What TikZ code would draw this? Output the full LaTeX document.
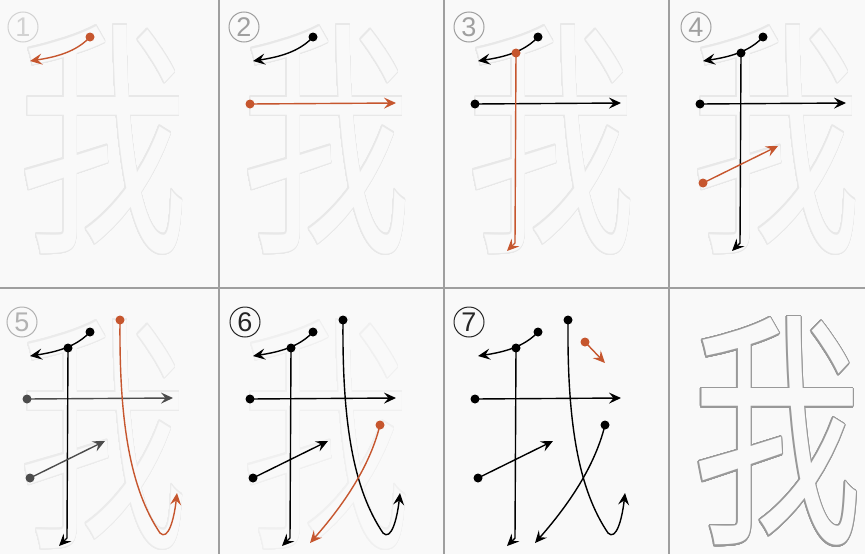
\documentclass[tikz,border=0pt]{standalone}
\usepackage{fontspec}
\usepackage{graphicx}
\usepackage[copies]{contour}
\usetikzlibrary{arrows.meta}
\newfontfamily\cjk{Noto Sans CJK SC}
\newfontfamily\numfont{Liberation Sans}
\definecolor{inkred}{RGB}{198,86,46}
\definecolor{panelbg}{RGB}{249,249,249}
\contourlength{1.1pt}
\contournumber{40}

% one stroke of the character, drawn in panel coordinates
\newcommand{\wochar}[1]{\scalebox{0.68}[1]{\fontsize{250}{250}\cjk\contour{#1}{\textcolor{panelbg}{我}}}}
\newcommand{\strokeone}[1]{%
  \fill[#1] (94,37) circle (4.5pt);
  \draw[penline,#1] (94,37) .. controls (80,52) and (60,57) .. (34,61);}
\newcommand{\stroketwo}[1]{%
  \fill[#1] (31,104) circle (4.5pt);
  \draw[penline,#1] (31,104) -- (177,103);}
\newcommand{\strokethree}[1]{%
  \fill[#1] (72,53) circle (4.5pt);
  \draw[penline,#1] (72,53) -- (71,243) -- (63,251);}
\newcommand{\strokefour}[1]{%
  \fill[#1] (34,183) circle (4.5pt);
  \draw[penline,#1] (34,183) -- (109,146);}
\newcommand{\strokefive}[1]{%
  \fill[#1] (124,25) circle (4.5pt);
  \draw[penline,#1] (124,25) .. controls (123,130) and (135,195) .. (164,238)
    .. controls (172,246) and (178,225) .. (181,198);}
\newcommand{\strokesix}[1]{%
  \fill[#1] (161,130) circle (4.5pt);
  \draw[penline,#1] (161,130) .. controls (150,175) and (120,215) .. (91,248);}
\newcommand{\strokeseven}[1]{%
  \fill[#1] (141,47) circle (4.5pt);
  \draw[penline,#1] (141,47) -- (161,68);}

\begin{document}
\begin{tikzpicture}[x=1pt, y=-1pt]
        \tikzset{
            penline/.style={line width=1.4pt, -{Stealth[length=12pt,width=11pt,inset=4.5pt]}},
            gridline/.style={draw=gray!75, line width=1.6pt},
            numring/.style={circle, draw, line width=1pt, minimum size=30pt, inner sep=0pt,
                            font=\numfont\fontsize{27}{27}\selectfont}
        }
        \useasboundingbox (0,0) rectangle (865,554);
        \fill[panelbg] (0,0) rectangle (865,554);

        \begin{scope}[shift={(-4,0)}]
            \node (g1) at (107,140) {\wochar{gray!18}};
            \node[numring, draw=gray!35, text=gray!35] (n1) at (27,27) {1};
            \strokeone{inkred}
        \end{scope}

        \begin{scope}[shift={(219,0)}]
            \node (g2) at (107,140) {\wochar{gray!18}};
            \node[numring, draw=gray!75, text=gray!75] (n2) at (25,27) {2};
            \strokeone{black}
            \stroketwo{inkred}
        \end{scope}

        \begin{scope}[shift={(444,0)}]
            \node (g3) at (107,140) {\wochar{gray!18}};
            \node[numring, draw=gray!75, text=gray!75] (n3) at (25,27) {3};
            \strokeone{black}
            \stroketwo{black}
            \strokethree{inkred}
        \end{scope}

        \begin{scope}[shift={(669,0)}]
            \node (g4) at (107,140) {\wochar{gray!18}};
            \node[numring, draw=gray!75, text=gray!75] (n4) at (27,27) {4};
            \strokeone{black}
            \stroketwo{black}
            \strokethree{black}
            \strokefour{inkred}
        \end{scope}

        \begin{scope}[shift={(-4,295)}]
            \node (g5) at (107,140) {\wochar{gray!16}};
            \node[numring, draw=gray!60, text=gray!60] (n5) at (26,27) {5};
            \strokeone{black}
            \stroketwo{black!70}
            \strokethree{black}
            \strokefour{black!70}
            \strokefive{inkred}
        \end{scope}

        \begin{scope}[shift={(219,295)}]
            \node (g6) at (107,140) {\wochar{gray!12}};
            \node[numring, draw=black!85, text=black!85] (n6) at (26,27) {6};
            \strokeone{black}
            \stroketwo{black}
            \strokethree{black}
            \strokefour{black}
            \strokefive{black}
            \strokesix{inkred}
        \end{scope}

        \begin{scope}[shift={(444,295)}]
            \node[numring, draw=black!85, text=black!85] (n7) at (25,27) {7};
            \strokeone{black}
            \stroketwo{black}
            \strokethree{black}
            \strokefour{black}
            \strokefive{black}
            \strokesix{black}
            \strokeseven{inkred}
        \end{scope}

        \begin{scope}[shift={(669,295)}]
            \node (g8) at (108,137) {\contourlength{1.5pt}\wochar{gray!80}};
        \end{scope}

        \draw[gridline] (219,0) -- (219,554);
        \draw[gridline] (444,0) -- (444,554);
        \draw[gridline] (669,0) -- (669,554);
        \draw[gridline] (0,288) -- (865,288);
    \end{tikzpicture}
\end{document}
